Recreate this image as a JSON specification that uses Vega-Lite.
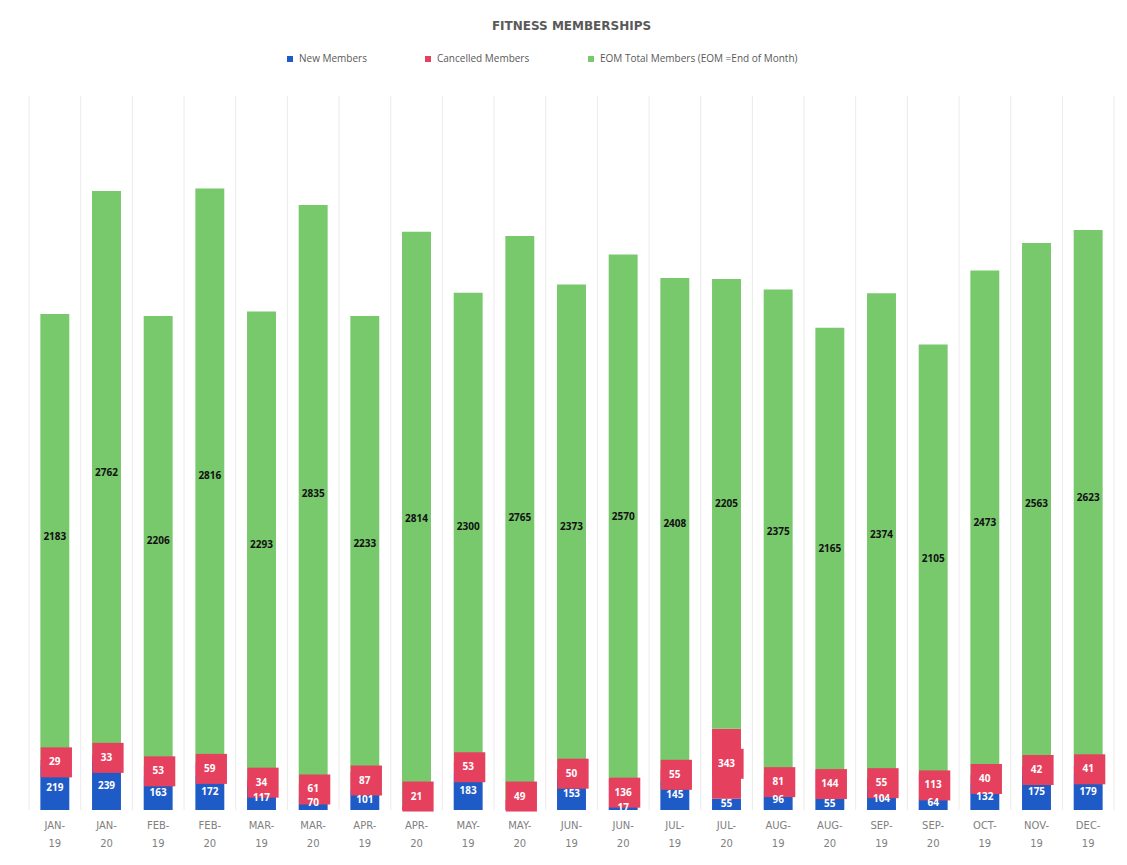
{
  "$schema": "https://vega.github.io/schema/vega-lite/v6.json",
  "width": 1127,
  "height": 865,
  "autosize": {"type": "fit", "contains": "padding"},
  "padding": {"left": 29, "top": 19, "right": 13, "bottom": 17},
  "background": "white",
  "title": {
    "text": "FITNESS MEMBERSHIPS",
    "font": "DejaVu Sans",
    "fontSize": 12,
    "fontWeight": "bold",
    "color": "#595959",
    "anchor": "middle",
    "offset": 63
  },
  "config": {"view": {"stroke": null}},
  "data": {
    "values": [
      {"month": "JAN-19", "series": "New Members", "value": 219},
      {"month": "JAN-19", "series": "Cancelled Members", "value": 29},
      {"month": "JAN-19", "series": "EOM Total Members (EOM =End of Month)", "value": 2183},
      {"month": "JAN-20", "series": "New Members", "value": 239},
      {"month": "JAN-20", "series": "Cancelled Members", "value": 33},
      {"month": "JAN-20", "series": "EOM Total Members (EOM =End of Month)", "value": 2762},
      {"month": "FEB-19", "series": "New Members", "value": 163},
      {"month": "FEB-19", "series": "Cancelled Members", "value": 53},
      {"month": "FEB-19", "series": "EOM Total Members (EOM =End of Month)", "value": 2206},
      {"month": "FEB-20", "series": "New Members", "value": 172},
      {"month": "FEB-20", "series": "Cancelled Members", "value": 59},
      {"month": "FEB-20", "series": "EOM Total Members (EOM =End of Month)", "value": 2816},
      {"month": "MAR-19", "series": "New Members", "value": 117},
      {"month": "MAR-19", "series": "Cancelled Members", "value": 34},
      {"month": "MAR-19", "series": "EOM Total Members (EOM =End of Month)", "value": 2293},
      {"month": "MAR-20", "series": "New Members", "value": 70},
      {"month": "MAR-20", "series": "Cancelled Members", "value": 61},
      {"month": "MAR-20", "series": "EOM Total Members (EOM =End of Month)", "value": 2835},
      {"month": "APR-19", "series": "New Members", "value": 101},
      {"month": "APR-19", "series": "Cancelled Members", "value": 87},
      {"month": "APR-19", "series": "EOM Total Members (EOM =End of Month)", "value": 2233},
      {"month": "APR-20", "series": "Cancelled Members", "value": 21},
      {"month": "APR-20", "series": "EOM Total Members (EOM =End of Month)", "value": 2814},
      {"month": "MAY-19", "series": "New Members", "value": 183},
      {"month": "MAY-19", "series": "Cancelled Members", "value": 53},
      {"month": "MAY-19", "series": "EOM Total Members (EOM =End of Month)", "value": 2300},
      {"month": "MAY-20", "series": "Cancelled Members", "value": 49},
      {"month": "MAY-20", "series": "EOM Total Members (EOM =End of Month)", "value": 2765},
      {"month": "JUN-19", "series": "New Members", "value": 153},
      {"month": "JUN-19", "series": "Cancelled Members", "value": 50},
      {"month": "JUN-19", "series": "EOM Total Members (EOM =End of Month)", "value": 2373},
      {"month": "JUN-20", "series": "New Members", "value": 17},
      {"month": "JUN-20", "series": "Cancelled Members", "value": 136},
      {"month": "JUN-20", "series": "EOM Total Members (EOM =End of Month)", "value": 2570},
      {"month": "JUL-19", "series": "New Members", "value": 145},
      {"month": "JUL-19", "series": "Cancelled Members", "value": 55},
      {"month": "JUL-19", "series": "EOM Total Members (EOM =End of Month)", "value": 2408},
      {"month": "JUL-20", "series": "New Members", "value": 55},
      {"month": "JUL-20", "series": "Cancelled Members", "value": 343},
      {"month": "JUL-20", "series": "EOM Total Members (EOM =End of Month)", "value": 2205},
      {"month": "AUG-19", "series": "New Members", "value": 96},
      {"month": "AUG-19", "series": "Cancelled Members", "value": 81},
      {"month": "AUG-19", "series": "EOM Total Members (EOM =End of Month)", "value": 2375},
      {"month": "AUG-20", "series": "New Members", "value": 55},
      {"month": "AUG-20", "series": "Cancelled Members", "value": 144},
      {"month": "AUG-20", "series": "EOM Total Members (EOM =End of Month)", "value": 2165},
      {"month": "SEP-19", "series": "New Members", "value": 104},
      {"month": "SEP-19", "series": "Cancelled Members", "value": 55},
      {"month": "SEP-19", "series": "EOM Total Members (EOM =End of Month)", "value": 2374},
      {"month": "SEP-20", "series": "New Members", "value": 64},
      {"month": "SEP-20", "series": "Cancelled Members", "value": 113},
      {"month": "SEP-20", "series": "EOM Total Members (EOM =End of Month)", "value": 2105},
      {"month": "OCT-19", "series": "New Members", "value": 132},
      {"month": "OCT-19", "series": "Cancelled Members", "value": 40},
      {"month": "OCT-19", "series": "EOM Total Members (EOM =End of Month)", "value": 2473},
      {"month": "NOV-19", "series": "New Members", "value": 175},
      {"month": "NOV-19", "series": "Cancelled Members", "value": 42},
      {"month": "NOV-19", "series": "EOM Total Members (EOM =End of Month)", "value": 2563},
      {"month": "DEC-19", "series": "New Members", "value": 179},
      {"month": "DEC-19", "series": "Cancelled Members", "value": 41},
      {"month": "DEC-19", "series": "EOM Total Members (EOM =End of Month)", "value": 2623}
    ]
  },
  "transform": [
    {"calculate": "datum.series === 'New Members' ? 0 : (datum.series === 'Cancelled Members' ? 1 : 2)", "as": "ord"},
    {"stack": "value", "groupby": ["month"], "sort": [{"field": "ord", "order": "ascending"}], "as": ["y0", "y1"]},
    {"calculate": "datum.ord === 1 ? max((datum.y0 + datum.y1) / 2, 66) : (datum.y0 + datum.y1) / 2", "as": "ymid"}
  ],
  "encoding": {
    "x": {
      "field": "month",
      "type": "nominal",
      "sort": null,
      "scale": {"paddingInner": 0.44, "paddingOuter": 0.22},
      "axis": {
        "title": null,
        "labelAngle": 0,
        "labelExpr": "[slice(datum.value, 0, 4), slice(datum.value, 4)]",
        "labelFont": "DejaVu Sans",
        "labelFontSize": 10,
        "labelColor": "#808080",
        "labelLineHeight": 18,
        "labelPadding": 10,
        "ticks": false,
        "domain": false,
        "grid": false
      }
    }
  },
  "layer": [
    {
      "transform": [{"filter": "datum.ord === 2"}],
      "mark": {"type": "rule", "color": "#ebebeb", "strokeWidth": 1, "xOffset": -25.8},
      "encoding": {}
    },
    {
      "transform": [{"filter": "datum.ord === 2 && datum.month === 'DEC-19'"}],
      "mark": {"type": "rule", "color": "#ebebeb", "strokeWidth": 1, "xOffset": 25.8},
      "encoding": {}
    },
    {
      "mark": {"type": "bar"},
      "encoding": {
        "y": {"field": "y0", "type": "quantitative", "scale": {"domain": [0, 3500]}, "axis": null},
        "y2": {"field": "y1"},
        "color": {
          "field": "series",
          "type": "nominal",
          "scale": {
            "domain": ["New Members", "Cancelled Members", "EOM Total Members (EOM =End of Month)"],
            "range": ["#1E5BC6", "#E5415F", "#78C86C"]
          },
          "legend": {
            "title": null,
            "orient": "none",
            "legendX": 256,
            "legendY": -42,
            "direction": "horizontal",
            "symbolType": "square",
            "symbolSize": 36,
            "labelFont": "Open Sans",
            "labelFontSize": 10,
            "labelColor": "#595959",
            "labelLimit": 400,
            "columnPadding": 56
          }
        }
      }
    },
    {
      "transform": [{"filter": "datum.ord === 1"}],
      "mark": {"type": "bar", "color": "#E5415F", "width": {"band": 1.08}, "xOffset": 1.5, "yOffset": 15, "y2Offset": -15},
      "encoding": {
        "y": {"field": "ymid", "type": "quantitative"},
        "y2": {"field": "ymid"}
      }
    },
    {
      "transform": [{"filter": "datum.ord !== 2"}],
      "mark": {"type": "text", "color": "white", "font": "Open Sans", "fontSize": 10, "fontWeight": "bold"},
      "encoding": {
        "y": {"field": "ymid", "type": "quantitative"},
        "text": {"field": "value", "type": "quantitative"}
      }
    },
    {
      "transform": [{"filter": "datum.ord === 2"}],
      "mark": {"type": "text", "color": "#111111", "font": "Open Sans", "fontSize": 10, "fontWeight": "bold"},
      "encoding": {
        "y": {"field": "ymid", "type": "quantitative"},
        "text": {"field": "value", "type": "quantitative"}
      }
    }
  ]
}
